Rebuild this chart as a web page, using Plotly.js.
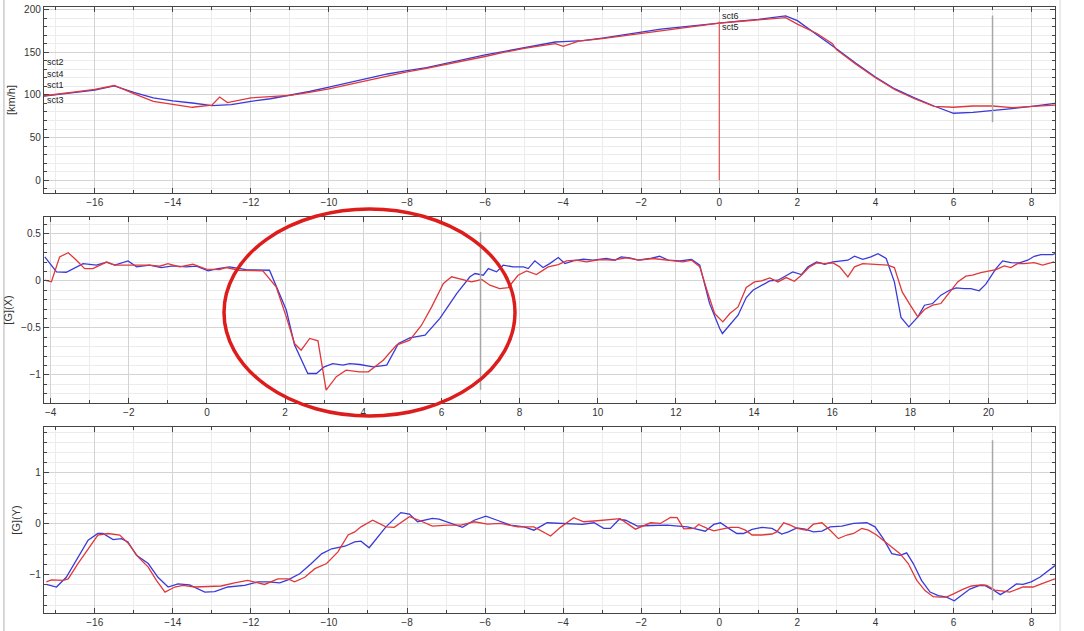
<!DOCTYPE html>
<html><head><meta charset="utf-8">
<script src="https://cdn.plot.ly/plotly-3.0.1.min.js"></script>
<style>html,body{margin:0;padding:0;background:#fff}#chart{width:1084px;height:631px}</style>
</head><body><div id="chart"></div>
<script>
// ---- Speed panel (top) ----
const spdBlueX = [-17.3,-17,-16.5,-16,-15.5,-15,-14.5,-14,-13.5,-13,-12.5,-12,-11.5,-11,-10.5,-10,-9.5,-9,-8.5,-8,-7.5,-7,-6.5,-6,-5.5,-5,-4.5,-4.2,-4,-3.5,-3,-2.5,-2,-1.5,-1,-0.5,0,0.5,1,1.5,1.7,2,2.5,3,3.5,4,4.5,5,5.5,6,6.5,7,7.5,8,8.6];
const spdBlueY = [98.5,100,103,105.5,110.5,103,96.5,93,90.5,87.5,88.5,92.5,95.5,99.5,104,109,114,119.5,124.5,128.5,132,137,142,147,151,155.5,159.5,162,162.5,163.5,166.5,170,174,177,179.5,182,184.5,186.5,188.5,191.5,192.5,187,171,154,137,121,107,96.5,87,78.5,79.5,81.5,84,86.5,90];
const spdRedX = [-17.3,-17,-16.5,-16,-15.5,-15,-14.5,-14,-13.5,-13,-12.8,-12.6,-12,-11.5,-11,-10.5,-10,-9.5,-9,-8.5,-8,-7.5,-7,-6.5,-6,-5.5,-5,-4.5,-4.2,-4,-3.6,-3,-2.5,-2,-1.5,-1,-0.5,0,0.5,1,1.5,1.7,2,2.5,2.9,3,3.5,4,4.5,5,5.5,6,6.5,7,7.5,8,8.6];
const spdRedY = [99,100.5,103.5,106.5,111,101.5,92.5,89,85.5,88,97.5,91,96.5,98,99.5,103,107,112,117,122.5,127,131,135.5,140.5,145,150,154.5,158,160,157,163,166,169,172.5,175.5,178.5,181.5,184,186,188,190.5,190.5,183,172,160,153,136,120,106,95.5,86.5,85.5,87,87,85,86.5,88];

// ---- G(X) panel (middle) ----
const gxBlueX = [-4.15,-3.85,-3.6,-3.17,-2.83,-2.57,-2.36,-2.02,-1.8,-1.47,-1.17,-0.87,-0.53,-0.27,0.03,0.28,0.58,1.0,1.6,2.03,2.24,2.58,2.8,3.0,3.22,3.48,3.65,3.91,4.25,4.6,4.9,5.19,5.58,5.96,6.39,6.73,6.86,7.07,7.2,7.41,7.58,7.84,8.1,8.22,8.39,8.6,8.77,8.99,9.16,9.37,9.63,9.88,10.22,10.44,10.6,10.82,11.03,11.33,11.58,11.8,12.1,12.4,12.61,12.86,13.12,13.19,13.59,13.8,13.97,14.19,14.4,14.61,14.78,14.99,15.21,15.38,15.6,15.81,16.02,16.4,16.57,16.78,16.99,17.17,17.38,17.59,17.76,17.96,18.19,18.36,18.57,18.78,19.0,19.17,19.38,19.55,19.76,19.93,20.19,20.36,20.57,20.79,21.0,21.17,21.34,21.64,21.7];
const gxBlueY = [0.255,0.096,0.092,0.184,0.167,0.2,0.167,0.213,0.149,0.167,0.142,0.16,0.149,0.156,0.106,0.131,0.149,0.12,0.113,-0.31,-0.68,-0.986,-0.986,-0.915,-0.88,-0.897,-0.88,-0.89,-0.915,-0.897,-0.667,-0.606,-0.578,-0.40,-0.135,0.043,0.078,0.06,0.131,0.096,0.167,0.149,0.149,0.131,0.213,0.142,0.184,0.248,0.184,0.213,0.23,0.22,0.238,0.22,0.255,0.245,0.22,0.238,0.262,0.22,0.213,0.227,0.167,-0.24,-0.507,-0.56,-0.365,-0.177,-0.1,-0.046,0,0.007,0.043,0.096,0.067,0.149,0.202,0.177,0.202,0.22,0.262,0.23,0.255,0.29,0.238,-0.011,-0.39,-0.489,-0.383,-0.259,-0.241,-0.152,-0.1,-0.074,-0.082,-0.082,-0.106,-0.035,0.131,0.213,0.195,0.191,0.22,0.262,0.28,0.28,0.29];
const gxRedX = [-4.15,-3.98,-3.77,-3.55,-3.34,-3.13,-2.92,-2.74,-2.57,-2.36,-1.98,-1.47,-1.21,-1.0,-0.7,-0.36,-0.02,0.32,0.49,0.83,1.43,1.77,2.03,2.24,2.41,2.63,2.84,3.05,3.31,3.56,3.9,4.13,4.51,4.85,5.19,5.49,5.75,6.05,6.26,6.56,6.77,7.03,7.24,7.49,7.71,7.96,8.18,8.43,8.73,8.99,9.2,9.45,9.71,10.05,10.39,10.73,11.07,11.41,11.84,12.18,12.4,12.61,12.82,12.99,13.2,13.38,13.59,13.8,14.01,14.19,14.4,14.61,14.82,15.03,15.21,15.42,15.6,15.77,16.02,16.19,16.4,16.57,16.78,16.99,17.2,17.42,17.59,17.79,17.98,18.19,18.36,18.57,18.78,19.0,19.21,19.42,19.59,19.8,20.01,20.19,20.4,20.57,20.74,20.91,21.17,21.38,21.68];
const gxRedY = [0.007,-0.01,0.255,0.30,0.22,0.13,0.131,0.167,0.2,0.167,0.167,0.167,0.156,0.184,0.149,0.177,0.124,0.12,0.142,0.113,0.106,-0.064,-0.383,-0.667,-0.738,-0.613,-0.638,-1.163,-1.02,-0.95,-0.968,-0.968,-0.844,-0.684,-0.631,-0.472,-0.277,-0.028,0.043,0.007,-0.011,0.014,-0.046,-0.082,-0.071,0.06,0.106,0.067,0.149,0.174,0.213,0.22,0.202,0.227,0.22,0.245,0.22,0.238,0.22,0.202,0.22,0.149,-0.135,-0.348,-0.436,-0.348,-0.277,-0.071,-0.011,0,0.032,-0.011,0.035,-0.004,0.06,0.149,0.191,0.184,0.191,0.149,0.043,0.149,0.184,0.177,0.167,0.167,0.142,-0.117,-0.248,-0.383,-0.305,-0.259,-0.241,-0.117,-0.011,0.05,0.06,0.089,0.106,0.12,0.16,0.142,0.184,0.184,0.195,0.167,0.202];

// ---- G(Y) panel (bottom) ----
const gyBlueX = [-17.24,-16.98,-16.73,-16.47,-16.17,-15.92,-15.79,-15.53,-15.32,-15.15,-14.93,-14.63,-14.38,-14.12,-13.87,-13.57,-13.18,-12.93,-12.59,-12.16,-11.82,-11.56,-11.26,-11.05,-10.75,-10.45,-10.19,-9.93,-9.59,-9.34,-9.18,-8.97,-8.54,-8.16,-7.94,-7.73,-7.35,-7.18,-6.88,-6.58,-6.28,-5.98,-5.69,-5.35,-5.0,-4.75,-4.41,-3.9,-3.51,-3.21,-2.96,-2.79,-2.57,-2.4,-2.1,-1.76,-1.34,-0.82,-0.36,-0.14,0.03,0.24,0.45,0.62,0.84,1.09,1.35,1.6,1.77,1.99,2.2,2.41,2.63,2.84,3.14,3.44,3.78,3.99,4.2,4.42,4.63,4.8,4.97,5.18,5.4,5.61,5.82,6.02,6.2,6.42,6.67,6.8,7.02,7.2,7.4,7.61,7.78,7.99,8.21,8.6];
const gyBlueY = [-1.19,-1.24,-1.05,-0.72,-0.32,-0.19,-0.19,-0.31,-0.29,-0.355,-0.62,-0.78,-1.05,-1.24,-1.18,-1.2,-1.34,-1.33,-1.24,-1.21,-1.14,-1.14,-1.16,-1.10,-0.98,-0.78,-0.59,-0.49,-0.44,-0.355,-0.34,-0.47,-0.06,0.22,0.19,0.04,0.105,0.09,0.007,-0.07,0.07,0.15,0.07,-0.026,-0.06,-0.125,0.02,-0.007,-0.013,0.02,-0.09,-0.09,0.085,0.07,-0.046,-0.033,-0.026,-0.06,-0.145,-0.013,0.02,-0.09,-0.19,-0.19,-0.11,-0.07,-0.09,-0.2,-0.16,-0.08,-0.105,-0.16,-0.145,-0.06,-0.046,0.007,0.02,-0.06,-0.29,-0.585,-0.62,-0.57,-0.78,-1.11,-1.34,-1.41,-1.44,-1.51,-1.41,-1.28,-1.21,-1.21,-1.30,-1.39,-1.30,-1.18,-1.19,-1.14,-1.05,-0.82];
const gyRedX = [-17.24,-17.11,-16.81,-16.68,-16.43,-16.13,-15.92,-15.66,-15.36,-15.15,-14.89,-14.63,-14.42,-14.2,-13.95,-13.74,-13.44,-13.1,-12.76,-12.42,-12.08,-11.65,-11.31,-11.05,-10.88,-10.62,-10.36,-10.06,-9.77,-9.51,-9.34,-9.18,-8.88,-8.54,-8.33,-7.94,-7.69,-7.35,-6.96,-6.62,-6.28,-5.94,-5.6,-5.17,-4.75,-4.32,-4.07,-3.73,-3.47,-3.13,-2.79,-2.54,-2.15,-1.76,-1.51,-1.25,-1.08,-0.91,-0.65,-0.53,-0.31,-0.14,0.03,0.28,0.49,0.67,0.84,1.09,1.35,1.47,1.65,1.82,1.99,2.24,2.41,2.63,2.84,3.05,3.27,3.44,3.65,3.82,4.03,4.25,4.46,4.63,4.84,5.06,5.27,5.48,5.65,5.82,6.04,6.25,6.46,6.72,6.85,7.06,7.27,7.44,7.78,8.04,8.25,8.6];
const gyRedY = [-1.14,-1.1,-1.11,-1.08,-0.78,-0.45,-0.22,-0.19,-0.22,-0.375,-0.65,-0.85,-1.11,-1.34,-1.24,-1.21,-1.24,-1.23,-1.22,-1.16,-1.11,-1.19,-1.08,-1.08,-1.14,-1.05,-0.88,-0.78,-0.55,-0.22,-0.16,-0.06,0.07,-0.06,-0.07,0.14,0.07,-0.046,-0.026,-0.026,0.04,-0.007,0.007,-0.06,-0.06,-0.24,-0.07,0.12,0.04,0.06,0.085,0.1,-0.105,0.02,0.007,0.125,0.12,-0.1,-0.09,-0.013,-0.09,-0.14,-0.11,-0.07,-0.07,-0.125,-0.22,-0.22,-0.2,-0.16,0.02,-0.026,-0.09,-0.125,-0.007,0.02,-0.125,-0.29,-0.22,-0.19,-0.09,-0.125,-0.22,-0.355,-0.49,-0.585,-0.78,-1.11,-1.31,-1.43,-1.44,-1.44,-1.36,-1.28,-1.22,-1.20,-1.21,-1.30,-1.32,-1.34,-1.24,-1.24,-1.18,-1.08];

// marker lines & labels
const cursorX = [0];
const cursorRange = [0, 186];
const grayX = [7];
const grayRangeSpd = [68, 193];
const grayRangeGx = [-1.16, 0.52];
const grayRangeGy = [-1.5, 1.64];
const sctLabels = ["sct2","sct4","sct1","sct3"];
const sctLabelY = [138, 125, 112, 94];
const sctRightLabels = ["sct6","sct5"];
const sctRightY = [192, 180];

const BLUE = '#3a3ad8', RED = '#e0383a';
const line = (c)=>({color:c, width:1.3});

const traces = [
  {x:spdBlueX, y:spdBlueY, xaxis:'x', yaxis:'y', mode:'lines', line:line(BLUE)},
  {x:spdRedX, y:spdRedY, xaxis:'x', yaxis:'y', mode:'lines', line:line(RED)},
  {x:gxBlueX, y:gxBlueY, xaxis:'x2', yaxis:'y2', mode:'lines', line:line(BLUE)},
  {x:gxRedX, y:gxRedY, xaxis:'x2', yaxis:'y2', mode:'lines', line:line(RED)},
  {x:gyBlueX, y:gyBlueY, xaxis:'x3', yaxis:'y3', mode:'lines', line:line(BLUE)},
  {x:gyRedX, y:gyRedY, xaxis:'x3', yaxis:'y3', mode:'lines', line:line(RED)}
];

const tickFont = {family:'Liberation Sans, Arial, sans-serif', size:10, color:'#333'};
function xax(range, anchor){
  return {range:range, anchor:anchor, dtick:2, tick0:0, showgrid:true, gridcolor:'#d4d4d4', gridwidth:1,
    minor:{dtick:1, showgrid:true, gridcolor:'#ececec', ticks:'inside', ticklen:3, tickcolor:'#444'},
    ticks:'inside', ticklen:5, tickcolor:'#444', showline:true, linecolor:'#444', linewidth:1.2, mirror:'allticks',
    zeroline:false, tickfont:tickFont, ticklabelstandoff:0};
}
function yax(range, anchor, domain, dt, mdt, title){
  return {range:range, anchor:anchor, domain:domain, dtick:dt, tick0:0, showgrid:true, gridcolor:'#d4d4d4',
    minor:{dtick:mdt, showgrid:true, gridcolor:'#ececec', ticks:'inside', ticklen:3, tickcolor:'#444'},
    ticks:'inside', ticklen:5, tickcolor:'#444', showline:true, linecolor:'#444', linewidth:1.2, mirror:'allticks',
    zeroline:false, tickfont:tickFont,
    title:{text:title, font:{family:'Liberation Sans, Arial, sans-serif', size:11, color:'#333'}, standoff:6}};
}

const shapes = [
  {type:'line', xref:'x', yref:'y', x0:cursorX[0], x1:cursorX[0], y0:cursorRange[0], y1:cursorRange[1], line:{color:'#e05555', width:1.2}},
  {type:'line', xref:'x', yref:'y', x0:grayX[0], x1:grayX[0], y0:grayRangeSpd[0], y1:grayRangeSpd[1], line:{color:'#a8a8a8', width:1.5}},
  {type:'line', xref:'x2', yref:'y2', x0:grayX[0], x1:grayX[0], y0:grayRangeGx[0], y1:grayRangeGx[1], line:{color:'#a8a8a8', width:1.5}},
  {type:'line', xref:'x3', yref:'y3', x0:grayX[0], x1:grayX[0], y0:grayRangeGy[0], y1:grayRangeGy[1], line:{color:'#a8a8a8', width:1.5}},
  {type:'circle', xref:'paper', yref:'paper', x0:(224-44)/1011, x1:(515-44)/1011, y0:(613-416)/606, y1:(613-209)/606, line:{color:'#dd1c1c', width:3.5}, layer:'above'},
  {type:'line', xref:'paper', yref:'paper', x0:-0.0396, x1:-0.0396, y0:-0.03, y1:1.012, line:{color:'#b0b0b0', width:1}},
  {type:'line', xref:'paper', yref:'paper', x0:1.005, x1:1.005, y0:-0.03, y1:1.012, line:{color:'#d8d8d8', width:1}}
];

const annFont = {family:'Liberation Sans, Arial, sans-serif', size:9, color:'#222'};
const annotations = [];
sctLabels.forEach((t,i)=>annotations.push({text:t, x:-17.28, y:sctLabelY[i], xref:'x', yref:'y', showarrow:false, xanchor:'left', yanchor:'middle', font:annFont}));
sctRightLabels.forEach((t,i)=>annotations.push({text:t, x:0.02, y:sctRightY[i], xref:'x', yref:'y', showarrow:false, xanchor:'left', yanchor:'middle', font:annFont}));

const layout = {
  width:1084, height:631,
  margin:{l:44, r:29, t:7, b:18},
  paper_bgcolor:'#ffffff', plot_bgcolor:'#ffffff',
  showlegend:false,
  xaxis: xax([-17.3, 8.6], 'y'),
  xaxis2: xax([-4.17, 21.7], 'y2'),
  xaxis3: xax([-17.3, 8.6], 'y3'),
  yaxis: yax([-15, 203], 'x', [0.693, 1], 50, 10, '[km/h]'),
  yaxis2: yax([-1.30, 0.68], 'x2', [0.3465, 0.6535], 0.5, 0.1, '[G](X)'),
  yaxis3: yax([-1.75, 1.9], 'x3', [0, 0.307], 1, 0.2, '[G](Y)'),
  shapes:shapes, annotations:annotations
};
Plotly.newPlot('chart', traces, layout, {displayModeBar:false, staticPlot:true});
</script></body></html>
